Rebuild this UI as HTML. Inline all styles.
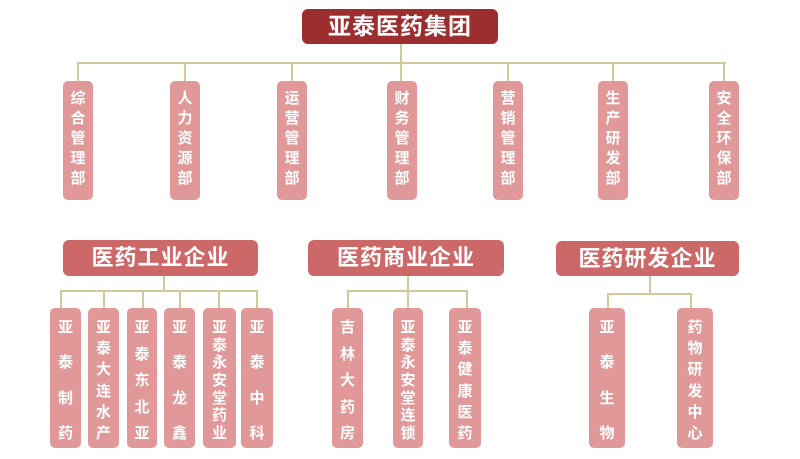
<!DOCTYPE html>
<html><head><meta charset="utf-8"><style>
*{margin:0;padding:0;box-sizing:border-box}
body{width:800px;height:459px;background:#fff;position:relative;overflow:hidden;font-family:"Liberation Sans","Noto Sans CJK SC",sans-serif;font-weight:bold;color:#fff}
.l{position:absolute;background:#d3c898}
.t{position:absolute;background:#9d2e30;border-radius:6px;font-size:23px;text-align:center;line-height:35px;letter-spacing:1px}
.h{position:absolute;background:#cd6868;border-radius:6px;font-size:22px;text-align:center;line-height:36px;letter-spacing:1px}
.d{position:absolute;top:81px;height:119px;width:30px;background:#e09898;border-radius:5px;font-size:15px;line-height:20px;text-align:center;padding-top:8px}
.b{position:absolute;top:308px;height:140px;background:#e09898;border-radius:5px;font-size:15px;line-height:16px;text-align:center;display:flex;flex-direction:column;justify-content:space-between;align-items:center;padding:12px 0 6px}
</style></head><body>
<div class="t" style="left:302px;top:9px;width:196px;height:35px">亚泰医药集团</div>
<div class="l" style="left:400px;top:44px;width:2px;height:19px"></div>
<div class="l" style="left:77px;top:62px;width:649px;height:2px"></div>
<div class="l" style="left:77px;top:62px;width:2px;height:19px"></div>
<div class="l" style="left:184px;top:62px;width:2px;height:19px"></div>
<div class="l" style="left:291px;top:62px;width:2px;height:19px"></div>
<div class="l" style="left:400px;top:62px;width:2px;height:19px"></div>
<div class="l" style="left:507px;top:62px;width:2px;height:19px"></div>
<div class="l" style="left:612px;top:62px;width:2px;height:19px"></div>
<div class="l" style="left:723px;top:62px;width:2px;height:19px"></div>
<div class="d" style="left:63px">综<br>合<br>管<br>理<br>部</div>
<div class="d" style="left:170px">人<br>力<br>资<br>源<br>部</div>
<div class="d" style="left:277px">运<br>营<br>管<br>理<br>部</div>
<div class="d" style="left:387px">财<br>务<br>管<br>理<br>部</div>
<div class="d" style="left:493px">营<br>销<br>管<br>理<br>部</div>
<div class="d" style="left:598px">生<br>产<br>研<br>发<br>部</div>
<div class="d" style="left:709px">安<br>全<br>环<br>保<br>部</div>

<div class="h" style="left:63px;top:240px;width:195px;height:36px">医药工业企业</div>
<div class="l" style="left:163px;top:276px;width:2px;height:16px"></div>
<div class="l" style="left:60px;top:290px;width:198px;height:2px"></div>
<div class="l" style="left:60px;top:290px;width:2px;height:18px"></div>
<div class="l" style="left:103px;top:290px;width:2px;height:18px"></div>
<div class="l" style="left:142px;top:290px;width:2px;height:18px"></div>
<div class="l" style="left:179px;top:290px;width:2px;height:18px"></div>
<div class="l" style="left:218px;top:290px;width:2px;height:18px"></div>
<div class="l" style="left:256px;top:290px;width:2px;height:18px"></div>
<div class="b" style="left:50px;width:31px"><span>亚</span><span>泰</span><span>制</span><span>药</span></div>
<div class="b" style="left:88px;width:31px"><span>亚</span><span>泰</span><span>大</span><span>连</span><span>水</span><span>产</span></div>
<div class="b" style="left:127px;width:30px"><span>亚</span><span>泰</span><span>东</span><span>北</span><span>亚</span></div>
<div class="b" style="left:164px;width:31px"><span>亚</span><span>泰</span><span>龙</span><span>鑫</span></div>
<div class="b" style="left:203px;width:33px"><span>亚</span><span>泰</span><span>永</span><span>安</span><span>堂</span><span>药</span><span>业</span></div>
<div class="b" style="left:241px;width:32px"><span>亚</span><span>泰</span><span>中</span><span>科</span></div>

<div class="h" style="left:308px;top:240px;width:196px;height:36px">医药商业企业</div>
<div class="l" style="left:407px;top:276px;width:2px;height:16px"></div>
<div class="l" style="left:347px;top:290px;width:121px;height:2px"></div>
<div class="l" style="left:347px;top:290px;width:2px;height:18px"></div>
<div class="l" style="left:407px;top:290px;width:2px;height:18px"></div>
<div class="l" style="left:466px;top:290px;width:2px;height:18px"></div>
<div class="b" style="left:332px;width:31px"><span>吉</span><span>林</span><span>大</span><span>药</span><span>房</span></div>
<div class="b" style="left:393px;width:30px"><span>亚</span><span>泰</span><span>永</span><span>安</span><span>堂</span><span>连</span><span>锁</span></div>
<div class="b" style="left:449px;width:32px"><span>亚</span><span>泰</span><span>健</span><span>康</span><span>医</span><span>药</span></div>

<div class="h" style="left:556px;top:241px;width:183px;height:35px">医药研发企业</div>
<div class="l" style="left:649px;top:276px;width:2px;height:19px"></div>
<div class="l" style="left:607px;top:293px;width:85px;height:2px"></div>
<div class="l" style="left:607px;top:293px;width:2px;height:15px"></div>
<div class="l" style="left:690px;top:293px;width:2px;height:15px"></div>
<div class="b" style="left:589px;width:36px"><span>亚</span><span>泰</span><span>生</span><span>物</span></div>
<div class="b" style="left:677px;width:36px"><span>药</span><span>物</span><span>研</span><span>发</span><span>中</span><span>心</span></div>
</body></html>
